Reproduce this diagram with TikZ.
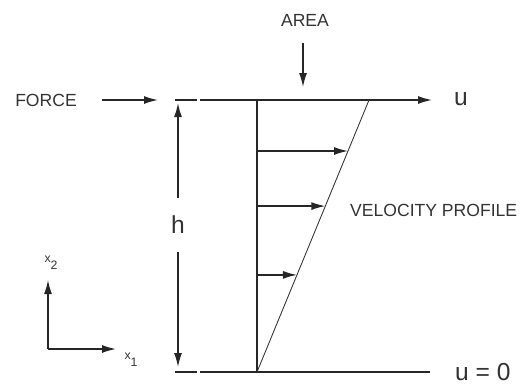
\documentclass[tikz,border=0pt]{standalone}
\usepackage{fontspec}
\setmainfont{Liberation Sans}
\usepackage{tikz}
\usetikzlibrary{arrows.meta,calc}

\begin{document}
\begin{tikzpicture}[
  x=0.02cm, y=-0.02cm,
  font=\fontsize{10}{12}\selectfont,
  every node/.style={text=black!80},
  wall/.style={line width=0.8pt, draw=black!85},
  arr/.style={wall, -{Latex[length=2.8mm, width=1.6mm]}},
  prof/.style={line width=0.5pt, draw=black!80},
  big/.style={font=\fontsize{14}{16}\selectfont},
  sub/.style={font=\fontsize{7}{8}\selectfont, inner sep=0pt}
]
\useasboundingbox (0,0) rectangle (525,387);
% ---- plates and wall ----
\coordinate (tl) at (200,100);  \coordinate (tr) at (432,100);
\coordinate (bl) at (200,372);  \coordinate (br) at (430,372);
\coordinate (tdash) at (175,100); \coordinate (tdashe) at (197,100);
\coordinate (bdash) at (175,372); \coordinate (bdashe) at (197,372);
\coordinate (wt) at (257,100);  \coordinate (wb) at (257,372);
\coordinate (pt) at (369,100);
\draw[arr] (tl) -- (tr);
\draw[wall] (bl) -- (br);
\draw[wall] (tdash) -- (tdashe);
\draw[wall] (bdash) -- (bdashe);
\draw[wall] (wt) -- (wb);
\node[big, anchor=west] (u) at (448,99) {u};
\node[big, anchor=west] (u0) at (449,372) {u = 0};
% ---- velocity profile ----
\draw[prof] (wb) -- (pt);
\foreach \f in {0.8125,0.610,0.357}
  \draw[arr] ($(wb)!\f!(wt)$) -- ($(wb)!\f!(pt)$);
\node[anchor=west] (vp) at (344,210) {VELOCITY PROFILE};
% ---- gap height h ----
\coordinate (ht) at (178,103);
\coordinate (hb) at (178,367);
\node[big, minimum height=1.08cm, inner sep=0pt] (h) at (178,225) {h};
\draw[arr] (h.north) -- (ht);
\draw[arr] (h.south) -- (hb);
% ---- force and area ----
\node (force) at (46,100) {FORCE};
\coordinate (fs) at (102,100);  \coordinate (fe) at (158,100);
\draw[arr] (fs) -- (fe);
\node (area) at (305,20) {AREA};
\coordinate (as) at (303,43);  \coordinate (ae) at (303,87);
\draw[arr] (as) -- (ae);
% ---- axes ----
\coordinate (o) at (48,349);
\coordinate (x2e) at (48,280);
\coordinate (x1e) at (116,349);
\draw[arr] (o) -- (x2e);
\draw[arr] (o) -- (x1e);
\node[sub] (x2) at (51,263) {x\raisebox{-4pt}{2}};
\node[sub] (x1) at (131,360) {x\raisebox{-4pt}{1}};
\end{tikzpicture}
\end{document}
